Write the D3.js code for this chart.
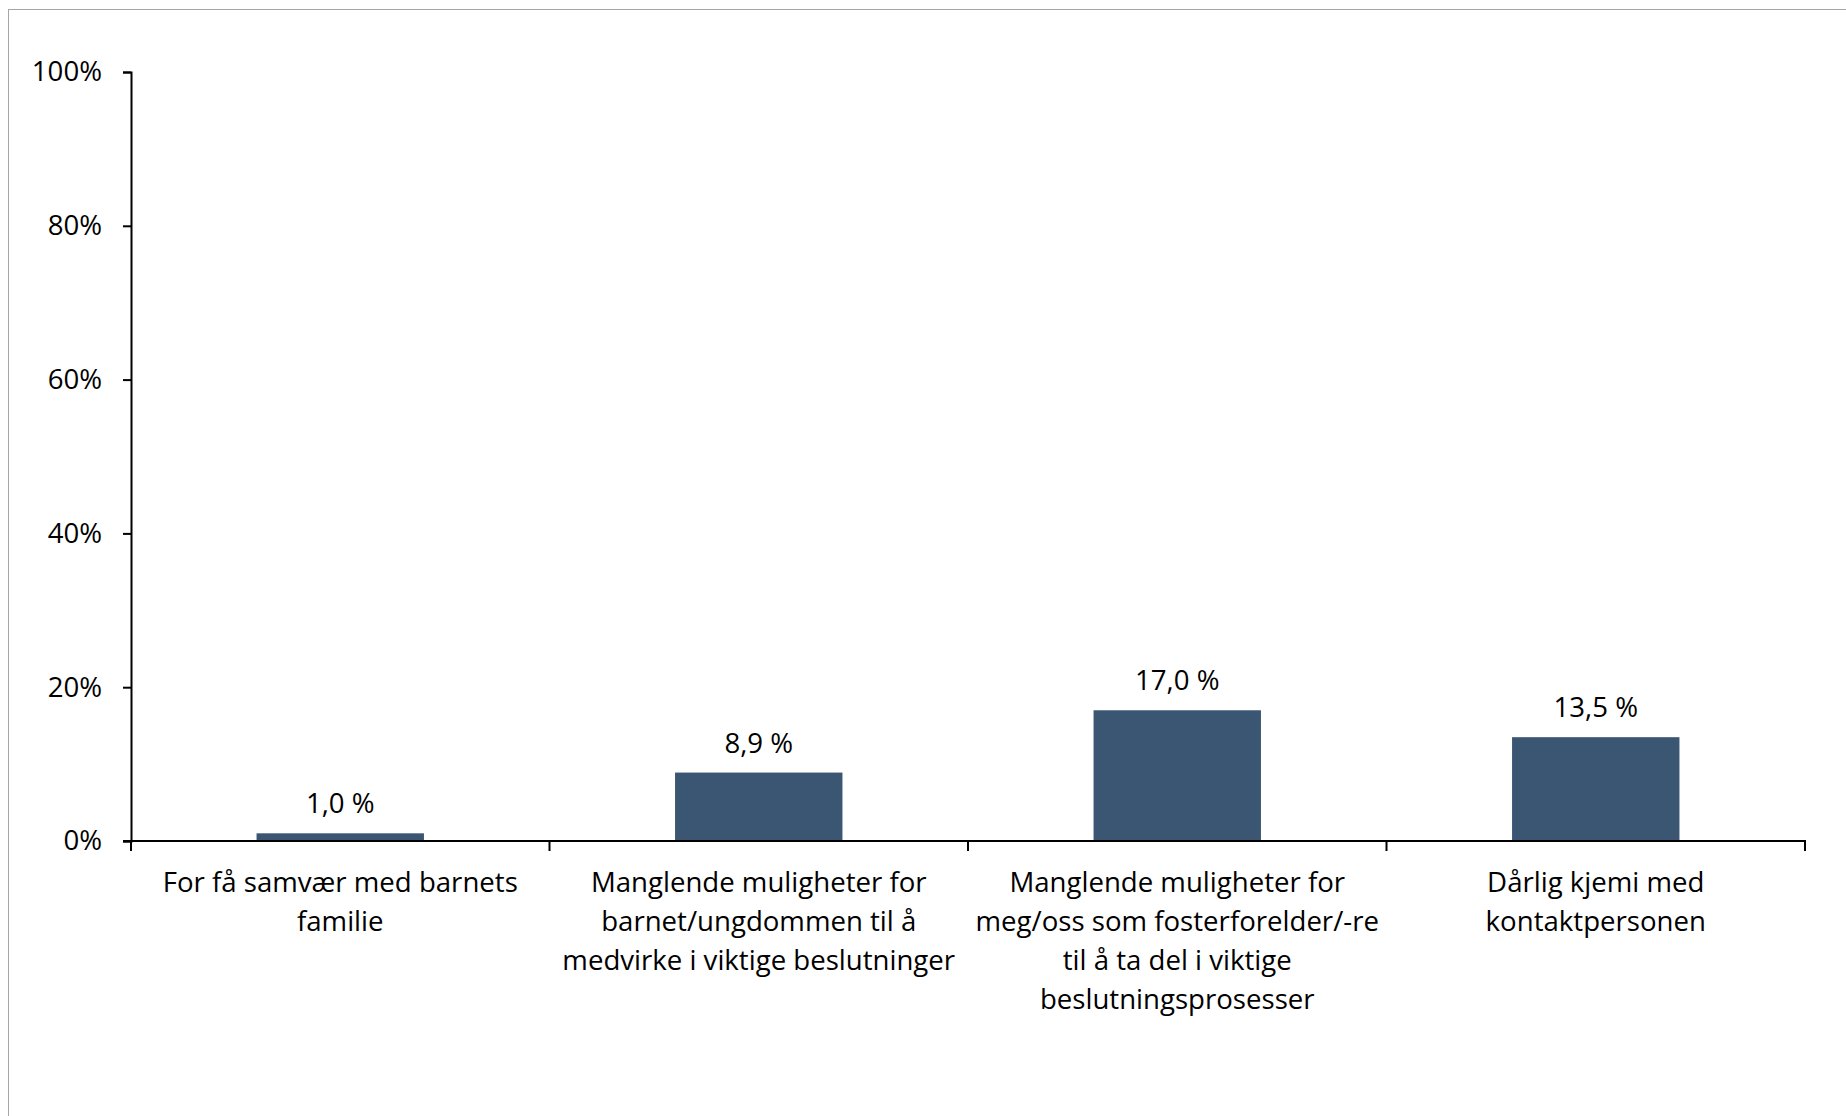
<!DOCTYPE html>
<html>
<head>
<meta charset="utf-8">
<script src="https://cdn.jsdelivr.net/npm/d3@7"></script>
<style>
  html, body { margin: 0; padding: 0; background: #ffffff; }
  svg { display: block; }
  text { font-family: "Open Sans", "Noto Sans", sans-serif; fill: #000; }
</style>
</head>
<body>
<svg id="chart" width="1846" height="1116"></svg>
<script>
const categories = [
  ["For få samvær med barnets", "familie"],
  ["Manglende muligheter for", "barnet/ungdommen til å", "medvirke i viktige beslutninger"],
  ["Manglende muligheter for", "meg/oss som fosterforelder/-re", "til å ta del i viktige", "beslutningsprosesser"],
  ["Dårlig kjemi med", "kontaktpersonen"]
];
const values = [1.0, 8.9, 17.0, 13.5];
const valueLabels = ["1,0 %", "8,9 %", "17,0 %", "13,5 %"];
const yTicks = [0, 20, 40, 60, 80, 100];

const W = 1846, H = 1116;
const margin = { left: 131, right: 41, top: 72, bottom: 275 };
const FS = 27.6;
const svg = d3.select("#chart");

// outer frame
svg.append("rect")
  .attr("x", 8.5).attr("y", 9.5)
  .attr("width", W).attr("height", H)
  .attr("fill", "none").attr("stroke", "#a6a6a6").attr("stroke-width", 1);

const x = d3.scaleBand()
  .domain(d3.range(categories.length))
  .range([margin.left, W - margin.right])
  .padding(0);

const y = d3.scaleLinear()
  .domain([0, 100])
  .range([H - margin.bottom, margin.top]);

const barW = x.bandwidth() * 0.4;
const barColor = "#3b5673";

// bars
svg.append("g").selectAll("rect")
  .data(values)
  .join("rect")
  .attr("x", (d, i) => x(i) + x.bandwidth() / 2 - barW / 2)
  .attr("y", d => y(d))
  .attr("width", barW)
  .attr("height", d => y(0) - y(d))
  .attr("fill", barColor);

// value labels
svg.append("g").selectAll("text")
  .data(values)
  .join("text")
  .attr("x", (d, i) => x(i) + x.bandwidth() / 2)
  .attr("y", d => y(d) - 20)
  .attr("text-anchor", "middle")
  .attr("font-size", FS)
  .text((d, i) => valueLabels[i]);

// y axis
const yAxis = d3.axisLeft(y)
  .tickValues(yTicks)
  .tickFormat(d => d + "%")
  .tickSize(8)
  .tickPadding(21);
const gy = svg.append("g")
  .attr("transform", `translate(${margin.left},0)`)
  .call(yAxis);
gy.select(".domain").attr("stroke", "#000").attr("stroke-width", 2);
gy.selectAll(".tick line").attr("stroke", "#000").attr("stroke-width", 2);
gy.selectAll(".tick text")
  .attr("font-size", FS)
  .attr("font-family", "'Open Sans', 'Noto Sans', sans-serif")
  .attr("fill", "#000");

// x axis
const xEdges = d3.range(categories.length + 1).map(i => margin.left + i * x.step());
const gx = svg.append("g");
gx.append("line")
  .attr("x1", margin.left - 8).attr("x2", W - margin.right + 1)
  .attr("y1", y(0)).attr("y2", y(0))
  .attr("stroke", "#000").attr("stroke-width", 2);
gx.selectAll("line.tick")
  .data(xEdges)
  .join("line")
  .attr("class", "tick")
  .attr("x1", d => d).attr("x2", d => d)
  .attr("y1", y(0)).attr("y2", y(0) + 10)
  .attr("stroke", "#000").attr("stroke-width", 2);

// category labels
const lineH = 39;
const cat = svg.append("g").selectAll("text")
  .data(categories)
  .join("text")
  .attr("text-anchor", "middle")
  .attr("font-size", FS);
cat.each(function(lines, i) {
  const t = d3.select(this);
  lines.forEach((ln, j) => {
    t.append("tspan")
      .attr("x", x(i) + x.bandwidth() / 2)
      .attr("y", y(0) + 51 + j * lineH)
      .text(ln);
  });
});
</script>
</body>
</html>
